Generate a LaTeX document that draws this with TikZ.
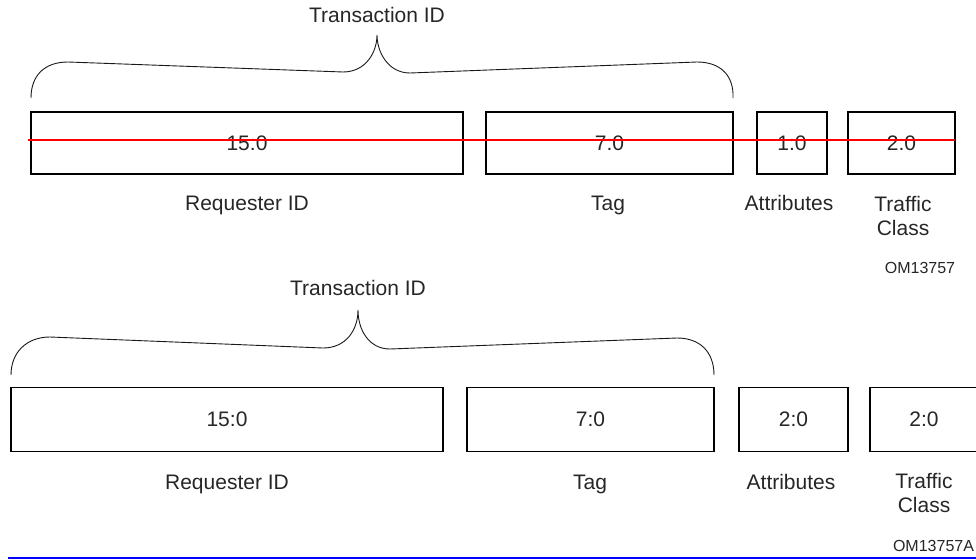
\documentclass[tikz,border=0pt]{standalone}
\usepackage{fontspec}
\setmainfont{Liberation Sans}

\begin{document}
\begin{tikzpicture}[x=1pt,y=-1pt,
  field/.style={draw=black,line width=1.8pt,minimum height=62pt,inner sep=0pt,outer sep=0pt,
    font=\fontsize{21}{24}\selectfont,text=black!85},
  lbl/.style={anchor=base,align=center,font=\fontsize{21}{24}\selectfont,text=black!85},
  fignum/.style={anchor=base,font=\fontsize{16}{18}\selectfont,text=black!85},
  brace/.style={line width=0.9pt,black!90}]
\useasboundingbox (0,0) rectangle (976,559);

% old layout (struck out)
\begin{scope}
\node[field,minimum width=432pt] (req) at (247,143) {15:0};
\node[field,minimum width=247pt] (tag) at (609.5,143) {7:0};
\node[field,minimum width=70pt] (attr) at (792,143) {1:0};
\node[field,minimum width=107pt] (tc) at (901.5,143) {2:0};
\node[lbl] (reqname) at (247,210) {Requester ID};
\node[lbl] (tagname) at (608,210) {Tag};
\node[lbl] (attrname) at (789,210) {Attributes};
\node[lbl] (tcname) at (903,235.5) {Traffic\\Class}; % base = last line
\node[fignum] (fig) at (920,273) {OM13757};
\node[lbl] (tid) at (377,23) {Transaction ID};
\coordinate (tip) at (377,35);
\draw[brace] (req.north west |- 0,98) .. controls (31,75) and (45,62) .. (68,62)
  -- (343,72) .. controls (366,72) and (377,52) .. (tip)
  .. controls (377,52) and (388,73) .. (410,73)
  -- (697,62) .. controls (720,62) and (734,75) .. (tag.north east |- 0,98);
\draw[red,line width=2pt] (28,140) -- (955,140);
\end{scope}

% new layout
\begin{scope}
\node[field,minimum width=432pt,minimum height=64pt] (req2) at (227,419.5) {15:0};
\node[field,minimum width=247pt,minimum height=64pt] (tag2) at (590.5,419.5) {7:0};
\node[field,minimum width=109pt,minimum height=64pt] (attr2) at (793.5,419.5) {2:0};
\node[field,minimum width=108pt,minimum height=64pt] (tc2) at (924,419.5) {2:0};
\node[lbl] (reqname2) at (227,489) {Requester ID};
\node[lbl] (tagname2) at (590,489) {Tag};
\node[lbl] (attrname2) at (791,489) {Attributes};
\node[lbl] (tcname2) at (924,512.5) {Traffic\\Class};
\node[fignum] (fig2) at (933.5,551) {OM13757A};
\node[lbl] (tid2) at (358,295.5) {Transaction ID};
\coordinate (tip2) at (358,310);
\draw[brace] (req2.north west |- 0,375) .. controls (11,352) and (27,337) .. (50,337)
  -- (323,348) .. controls (346,348) and (358,330) .. (tip2)
  .. controls (358,330) and (369,349) .. (390,349)
  -- (677,338) .. controls (700,338) and (714,352) .. (tag2.north east |- 0,375);
\draw[blue,line width=2pt] (8,557.5) -- (976,557.5);
\end{scope}
\end{tikzpicture}
\end{document}
